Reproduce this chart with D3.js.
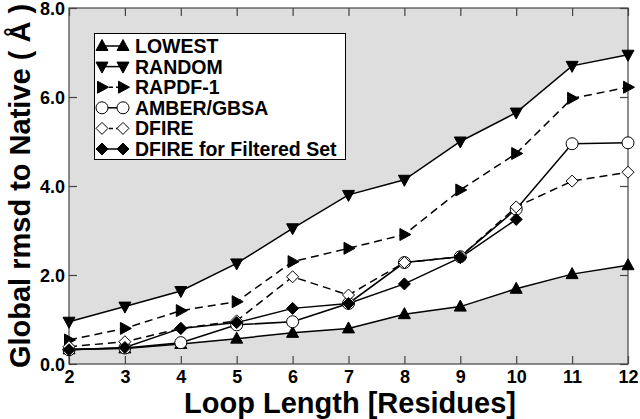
<!DOCTYPE html>
<html><head><meta charset="utf-8">
<script src="https://cdn.jsdelivr.net/npm/d3@7"></script>
<style>body{margin:0;background:#fff}svg{display:block}text{font-family:"Liberation Sans",Arial,sans-serif;font-weight:bold}</style>
</head><body>
<svg id="c" width="640" height="419"></svg>
<script>
const loopLengths = [2,3,4,5,6,7,8,9,10,11,12];
const lowest   = [0.33,0.35,0.45,0.57,0.70,0.80,1.12,1.29,1.69,2.02,2.22];
const random   = [0.95,1.29,1.64,2.26,3.05,3.80,4.14,5.00,5.65,6.70,6.95];
const rapdf    = [0.54,0.80,1.20,1.40,2.30,2.60,2.91,3.91,4.73,5.97,6.22];
const amber    = [0.32,0.36,0.48,0.88,0.95,1.36,2.28,2.41,3.48,4.95,4.97];
const dfire    = [0.39,0.50,0.80,0.97,1.96,1.55,2.28,2.41,3.53,4.11,4.31];
const dfireFilt= [0.32,0.37,0.80,0.93,1.25,1.36,1.80,2.39,3.25];
const yTicks = [0,2,4,6,8];
const seriesNames = ["LOWEST","RANDOM","RAPDF-1","AMBER/GBSA","DFIRE","DFIRE for Filtered Set"];

const svg = d3.select("#c");
const x = d3.scaleLinear().domain([2,12]).range([69,628]);
const y = d3.scaleLinear().domain([0,8]).range([364,8]);

svg.append("rect").attr("x",x(2)).attr("y",y(8)).attr("width",x(12)-x(2)).attr("height",y(0)-y(8)).attr("fill","#dedede");
svg.append("clipPath").attr("id","clip").append("rect").attr("x",x(2)).attr("y",y(8)).attr("width",x(12)-x(2)).attr("height",y(0)-y(8));

const g = svg.append("g").attr("clip-path","url(#clip)");
const area = d3.area().x((d,i)=>x(loopLengths[i])).y0((d,i)=>y(lowest[i])).y1((d,i)=>y(random[i]));
g.append("path").datum(lowest).attr("d",area).attr("fill","#fff");

const frame = svg.append("g");
frame.append("rect").attr("x",x(2)).attr("y",y(8)).attr("width",x(12)-x(2)).attr("height",y(0)-y(8)).attr("fill","none").attr("stroke","#444").attr("stroke-width",1.2);
const tl = 8;
const xAxB = d3.axisBottom(x).tickValues(loopLengths).tickSize(-tl).tickFormat(d3.format("d"));
const xAxT = d3.axisTop(x).tickValues(loopLengths).tickSize(-tl).tickFormat("");
const yAxL = d3.axisLeft(y).tickValues(yTicks).tickSize(-tl).tickFormat(d3.format(".1f"));
const yAxR = d3.axisRight(y).tickValues(yTicks).tickSize(-tl).tickFormat("");
function styleAxis(sel, fs){
  sel.select(".domain").remove();
  sel.selectAll(".tick line").attr("stroke","#444").attr("stroke-width",1.2);
  sel.selectAll(".tick text").attr("fill","#000").style("font-size",fs+"px").style("font-family","'Liberation Sans',Arial,sans-serif").style("font-weight","bold");
}
svg.append("g").attr("transform",`translate(0,${y(0)})`).call(xAxB).call(s=>styleAxis(s,18)).selectAll(".tick text").attr("dy","0").attr("y",19);
svg.append("g").attr("transform",`translate(0,${y(8)})`).call(xAxT).call(s=>styleAxis(s,18));
svg.append("g").attr("transform",`translate(${x(2)},0)`).call(yAxL).call(s=>styleAxis(s,18)).selectAll(".tick text").attr("x",-4).attr("dy","0.34em");
svg.append("g").attr("transform",`translate(${x(12)},0)`).call(yAxR).call(s=>styleAxis(s,18));

const series = [
  {name:seriesNames[0], data:lowest,    marker:"triUp",   fill:"#000", dash:null},
  {name:seriesNames[1], data:random,    marker:"triDown", fill:"#000", dash:null},
  {name:seriesNames[2], data:rapdf,     marker:"triRight",fill:"#000", dash:"8,5"},
  {name:seriesNames[3], data:amber,     marker:"circle",  fill:"#fff", dash:null},
  {name:seriesNames[4], data:dfire,     marker:"diamond", fill:"#fff", dash:"8,5"},
  {name:seriesNames[5], data:dfireFilt, marker:"diamond", fill:"#000", dash:null}
];
const line = d3.line().x((d,i)=>x(loopLengths[i])).y(d=>y(d));
const symPath = {
  triUp:    "M0,-6.5L6,4.5L-6,4.5Z",
  triDown:  "M0,6.5L6,-4.5L-6,-4.5Z",
  triRight: "M6.5,0L-4.5,6L-4.5,-6Z",
  diamond:  "M0,-6L6,0L0,6L-6,0Z"
};
function drawMarker(sel, m, fill, cx, cy){
  if(m==="circle"){
    sel.append("circle").attr("cx",cx).attr("cy",cy).attr("r",6).attr("fill",fill).attr("stroke","#000").attr("stroke-width",1);
  } else {
    sel.append("path").attr("d",symPath[m]).attr("transform",`translate(${cx},${cy})`).attr("fill",fill).attr("stroke","#000").attr("stroke-width",1);
  }
}
const sg = svg.append("g");
series.forEach(s=>{
  sg.append("path").datum(s.data).attr("d",line).attr("fill","none").attr("stroke","#000").attr("stroke-width",1.5).attr("stroke-dasharray",s.dash);
});
series.forEach(s=>{
  s.data.forEach((v,i)=>drawMarker(sg, s.marker, s.fill, x(loopLengths[i]), y(v)));
});

const lg = svg.append("g");
lg.append("rect").attr("x",94.5).attr("y",33.5).attr("width",251).attr("height",126).attr("fill","#fff").attr("stroke","#000").attr("stroke-width",1);
series.forEach((s,i)=>{
  const cy = 46 + i*20.6;
  lg.append("line").attr("x1",102).attr("x2",123).attr("y1",cy).attr("y2",cy).attr("stroke","#000").attr("stroke-width",1.5).attr("stroke-dasharray",s.dash?"4,3":null);
  drawMarker(lg, s.marker, s.fill, 102, cy);
  drawMarker(lg, s.marker, s.fill, 123, cy);
  lg.append("text").attr("x",135).attr("y",cy).attr("dy","0.36em").style("font-size","19.5px").text(s.name);
});

svg.append("text").attr("x",350).attr("y",413).attr("text-anchor","middle").style("font-size","29px").text("Loop Length [Residues]");
svg.append("text").attr("transform","translate(29.5,186) rotate(-90)").attr("text-anchor","middle").style("font-size","29px").text("Global rmsd to Native ( Å )");
</script>
</body></html>
